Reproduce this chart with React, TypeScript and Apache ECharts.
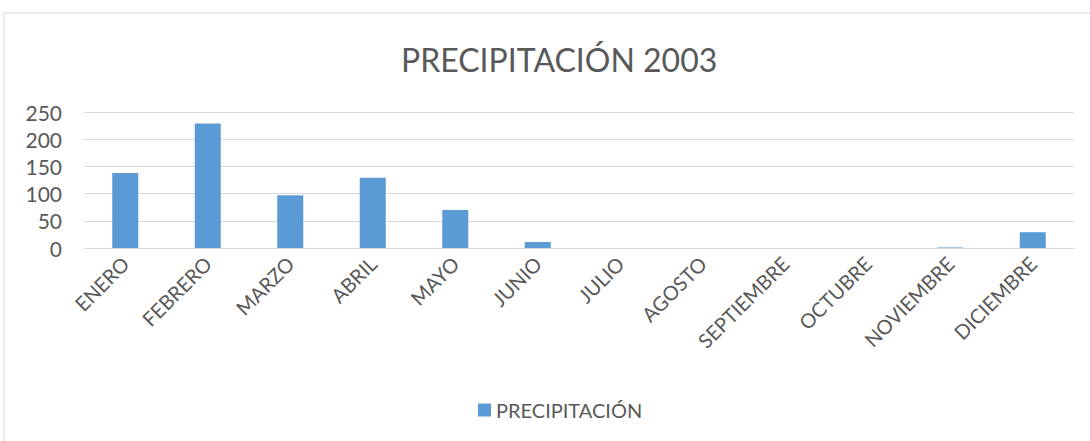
import React, { useEffect, useRef } from "react";
import * as echarts from "echarts";

const months = ["ENERO", "FEBRERO", "MARZO", "ABRIL", "MAYO", "JUNIO", "JULIO", "AGOSTO", "SEPTIEMBRE", "OCTUBRE", "NOVIEMBRE", "DICIEMBRE"];
const precipitation = [138, 229, 97, 129, 70, 11, 0, 0, 0, 0, 1, 29];
const seriesName = "PRECIPITACIÓN";
const titleText = "PRECIPITACIÓN 2003";

export default function App() {
  const ref = useRef<HTMLDivElement>(null);
  useEffect(() => {
    if (!ref.current) return;
    const chart = echarts.init(ref.current, undefined, { renderer: "svg" });
    const font = "Lato, 'Open Sans', sans-serif";
    chart.setOption({
      animation: false,
      backgroundColor: "#ffffff",
      textStyle: { fontFamily: font },
      graphic: [
        {
          type: "rect",
          shape: { x: 4, y: 13, width: 1100, height: 440 },
          style: { fill: "none", stroke: "#d9d9d9", lineWidth: 1 },
          silent: true,
        },
      ],
      title: {
        text: titleText,
        left: 396,
        top: 38,
        textStyle: { fontFamily: font, fontSize: 32, fontWeight: "normal", color: "#595959" },
      },
      legend: {
        bottom: 16,
        left: 473,
        itemWidth: 13,
        itemHeight: 13,
        icon: "rect",
        itemGap: 8,
        textStyle: { fontFamily: font, fontSize: 20, color: "#595959" },
        data: [seriesName],
      },
      grid: { left: 84, right: 16, top: 112, bottom: 193, containLabel: false },
      xAxis: {
        type: "category",
        data: months,
        axisLine: { show: true, lineStyle: { color: "#d9d9d9" } },
        axisTick: { show: false },
        axisLabel: { rotate: 45, interval: 0, fontSize: 20, color: "#595959", margin: 12, fontFamily: font },
      },
      yAxis: {
        type: "value",
        min: 0,
        max: 250,
        interval: 50,
        axisLine: { show: false },
        axisTick: { show: false },
        axisLabel: { fontSize: 21, color: "#595959", margin: 22, fontFamily: font },
        splitLine: { lineStyle: { color: "#d9d9d9", width: 1 } },
      },
      series: [
        {
          name: seriesName,
          type: "bar",
          data: precipitation,
          barWidth: 26,
          itemStyle: { color: "#5b9bd5" },
        },
      ],
    });
    return () => chart.dispose();
  }, []);
  return <div ref={ref} style={{ position: "fixed", left: 0, top: 0, width: 1090, height: 441 }} />;
}
